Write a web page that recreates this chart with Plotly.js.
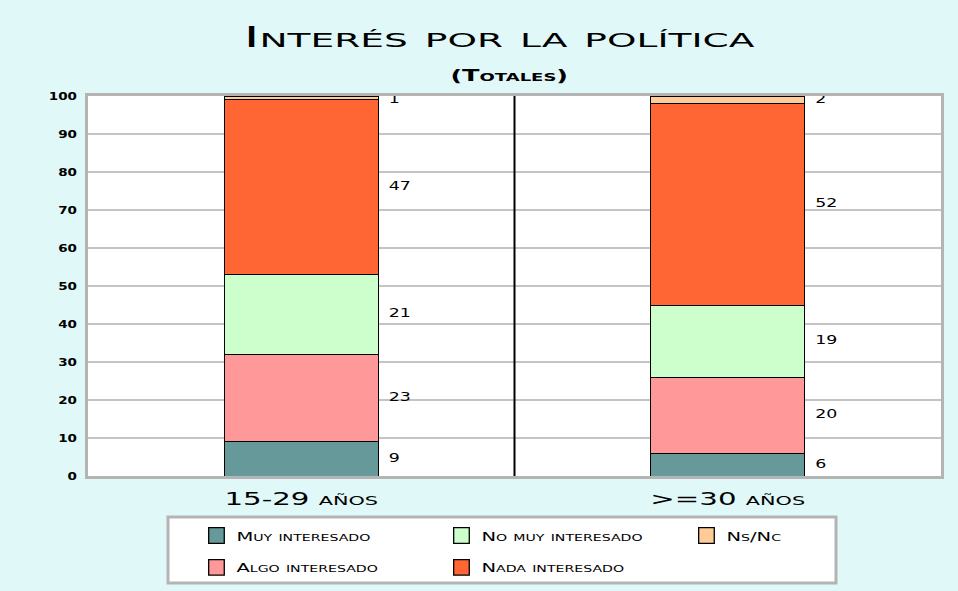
<!DOCTYPE html>
<html>
<head>
<meta charset="utf-8">
<script src="https://cdn.plot.ly/plotly-3.0.1.min.js"></script>
<style>
  html, body { margin: 0; padding: 0; background: #e0f8f8; }
  #chart { width: 958px; height: 591px; }
</style>
</head>
<body>
<div id="chart"></div>
<script>
// grupos de edad
var categories = ['15-29 años', '>=30 años'];

// alturas de los segmentos
var muy   = [9, 6];
var algo  = [23, 20];
var noMuy = [21, 19];
var nada  = [46, 53];
var nsnc  = [1, 2];

// cifras impresas junto a cada barra
var muyTxt   = [9, 6];
var algoTxt  = [23, 20];
var noMuyTxt = [21, 19];
var nadaTxt  = [47, 52];
var nsncTxt  = [1, 2];

var xIdx = [0, 1];
var baseFont = 'DejaVu Sans, Verdana, sans-serif';

function bar(name, vals, color, rank) {
    return {
        type: 'bar',
        name: name,
        x: xIdx,
        y: vals,
        width: 0.36,
        legendrank: rank,
        marker: { color: color, line: { color: '#000', width: 1 } },
        hoverinfo: 'skip'
    };
}

var series = [
    { name: 'Muy interesado',    vals: muy,   txt: muyTxt,   color: '#669999', rank: 1 },
    { name: 'Algo interesado',   vals: algo,  txt: algoTxt,  color: '#ff9999', rank: 4 },
    { name: 'No muy interesado', vals: noMuy, txt: noMuyTxt, color: '#ccffcc', rank: 2 },
    { name: 'Nada interesado',   vals: nada,  txt: nadaTxt,  color: '#ff6633', rank: 5 },
    { name: 'Ns/Nc',             vals: nsnc,  txt: nsncTxt,  color: '#ffcc99', rank: 3 }
];

var data = [];
var base = [0, 0];
var lblX = [], lblY = [], lblT = [];
series.forEach(function (s) {
    data.push(bar(s.name, s.vals, s.color, s.rank));
    for (var i = 0; i < 2; i++) {
        var mid = base[i] + s.vals[i] / 2;
        lblX.push(i + 0.205);
        lblY.push(Math.min(mid, 99));
        lblT.push(String(s.txt[i]));
        base[i] += s.vals[i];
    }
});

data.push({
    type: 'scatter',
    mode: 'text',
    x: lblX,
    y: lblY,
    text: lblT,
    textposition: 'middle right',
    textfont: { family: baseFont, size: 12, color: '#000' },
    cliponaxis: false,
    showlegend: false,
    hoverinfo: 'skip'
});

var layout = {
    width: 958,
    height: 591,
    paper_bgcolor: '#e0f8f8',
    plot_bgcolor: '#ffffff',
    barmode: 'stack',
    margin: { l: 88, r: 17, t: 96, b: 115 },
    font: { family: baseFont, color: '#000', variant: 'small-caps' },
    title: {
        text: 'Interés por la política',
        x: 0.521,
        xanchor: 'center',
        y: 0.937,
        yanchor: 'middle',
        font: { family: baseFont, size: 28, color: '#000', variant: 'small-caps' }
    },
    annotations: [{
        text: '(Totales)',
        xref: 'paper', yref: 'paper',
        x: 0.4936, y: 1.055,
        xanchor: 'center', yanchor: 'middle',
        showarrow: false,
        font: { family: baseFont, size: 16, color: '#000', variant: 'small-caps', weight: 'bold' }
    }],
    xaxis: {
        range: [-0.5, 1.5],
        tickvals: xIdx,
        ticktext: categories,
        ticks: '',
        ticklabelstandoff: 6,
        showgrid: false,
        zeroline: false,
        showline: true,
        mirror: true,
        linecolor: '#b4b4b4',
        linewidth: 3,
        tickfont: { family: baseFont, size: 17, color: '#000', variant: 'small-caps' }
    },
    yaxis: {
        range: [0, 100],
        dtick: 10,
        ticks: '',
        ticklabelstandoff: 6,
        gridcolor: '#c4c4c4',
        gridwidth: 1.5,
        zeroline: false,
        showline: true,
        mirror: true,
        linecolor: '#b4b4b4',
        linewidth: 3,
        tickfont: { family: baseFont, size: 10, color: '#000', weight: 'bold' }
    },
    shapes: [
        {   // separador entre grupos
            type: 'line',
            xref: 'x', yref: 'paper',
            x0: 0.5, x1: 0.5, y0: 0, y1: 1,
            line: { color: '#000', width: 2 }
        },
        {   // caja de la leyenda
            type: 'rect',
            xref: 'paper', yref: 'paper',
            x0: (168 - 88) / 853, x1: (836 - 88) / 853,
            y0: -(583 - 476) / 380, y1: -(517 - 476) / 380,
            fillcolor: '#ffffff',
            line: { color: '#b4b4b4', width: 3 }
        }
    ],
    showlegend: true,
    legend: {
        orientation: 'h',
        x: 0.558,
        xanchor: 'center',
        y: -0.183,
        yanchor: 'middle',
        bgcolor: 'rgba(0,0,0,0)',
        borderwidth: 0,
        entrywidth: 200,
        traceorder: 'normal',
        font: { family: baseFont, size: 13, color: '#000', variant: 'small-caps' }
    }
};

// la tipografía original es mucho más ancha: estirar el texto en horizontal
function stretch(sel, s) {
    document.querySelectorAll(sel).forEach(function (t) {
        var x = parseFloat(t.getAttribute('x')) || 0;
        var tr = t.getAttribute('transform') || '';
        t.setAttribute('transform', tr + ' translate(' + x + ',0) scale(' + s + ',1) translate(' + (-x) + ',0)');
    });
}

// más aire entre filas de la leyenda y cuadros de color algo mayores
function spreadLegend(extra) {
    document.querySelectorAll('.legend [clip-path]').forEach(function (el) {
        el.removeAttribute('clip-path');
    });
    var items = document.querySelectorAll('.legend .traces');
    var rows = [];
    items.forEach(function (g) {
        var m = /translate\(([-\d.]+),\s*([-\d.]+)\)/.exec(g.getAttribute('transform') || '');
        if (m && rows.indexOf(+m[2]) < 0) rows.push(+m[2]);
    });
    rows.sort(function (a, b) { return a - b; });
    items.forEach(function (g) {
        var m = /translate\(([-\d.]+),\s*([-\d.]+)\)/.exec(g.getAttribute('transform') || '');
        if (!m) return;
        var r = rows.indexOf(+m[2]);
        g.setAttribute('transform', 'translate(' + m[1] + ',' + (+m[2] + r * extra) + ')');
    });
    document.querySelectorAll('.legend .legendpoints path').forEach(function (p) {
        var tr = p.getAttribute('transform') || '';
        p.setAttribute('transform', tr + ' scale(1.3)');
    });
}

Plotly.newPlot('chart', data, layout, { displayModeBar: false }).then(function () {
    stretch('.gtitle', 1.9);
    stretch('.annotation-text', 1.6);
    stretch('.xtick text', 1.72);
    stretch('.ytick text', 1.35);
    stretch('.legendtext', 1.5);
    stretch('.textpoint text', 1.45);
    spreadLegend(12);
});
</script>
</body>
</html>
